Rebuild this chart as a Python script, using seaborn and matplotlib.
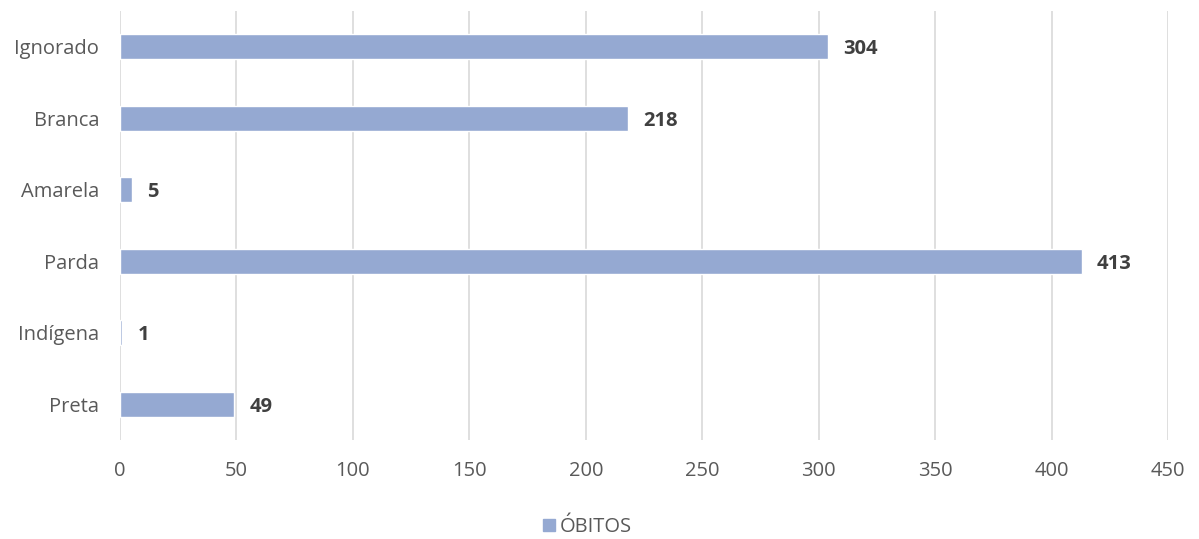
import matplotlib
matplotlib.use('Agg')
import pandas as pd
import seaborn as sns
import matplotlib.pyplot as plt
from matplotlib.patches import Patch

## data
categorias = ['Ignorado', 'Branca', 'Amarela', 'Parda', 'Indígena', 'Preta']
obitos     = [304, 218, 5, 413, 1, 49]
x_ticks    = [0, 50, 100, 150, 200, 250, 300, 350, 400, 450]
serie      = 'ÓBITOS'

bar_col  = '#95A9D2'
txt_col  = '#595959'
grid_col = '#D9D9D9'

sns.set_theme(style='white')
plt.rcParams['font.family'] = ['Open Sans', 'DejaVu Sans']

df = pd.DataFrame({'cat': categorias, 'val': obitos})

fig = plt.figure(figsize=(11.99, 5.39), dpi=100)
ax = fig.add_axes([0.1001, 0.1837, 0.8740, 0.7959])

sns.barplot(data=df, x='val', y='cat', color=bar_col, width=0.35,
            saturation=1, ax=ax, zorder=3)

## value labels at the end of each bar
for i, v in enumerate(obitos):
  ax.text(v + 6.5, i, str(v), va='center_baseline', ha='left', fontsize=14.5,
          fontweight='bold', color='#404040')

ax.set_xlim(0, 450)
ax.set_xticks(x_ticks)
ax.set_ylim(5.5, -0.5)
ax.xaxis.grid(True, color=grid_col, lw=1.2, zorder=0)
ax.yaxis.grid(False)
for s in ax.spines.values():
  s.set_visible(False)
ax.tick_params(axis='both', length=0, labelsize=14.5, colors=txt_col)
ax.tick_params(axis='x', pad=15)
ax.tick_params(axis='y', pad=15)
ax.set_xlabel('')
ax.set_ylabel('')

fig.legend(handles=[Patch(color=bar_col, label=serie)], loc='center',
           bbox_to_anchor=(0.49, 0.022), frameon=False, fontsize=14.5,
           handlelength=0.6, handleheight=0.6, handletextpad=0.2,
           labelcolor=txt_col)

fig.savefig('out.png', dpi=100)
